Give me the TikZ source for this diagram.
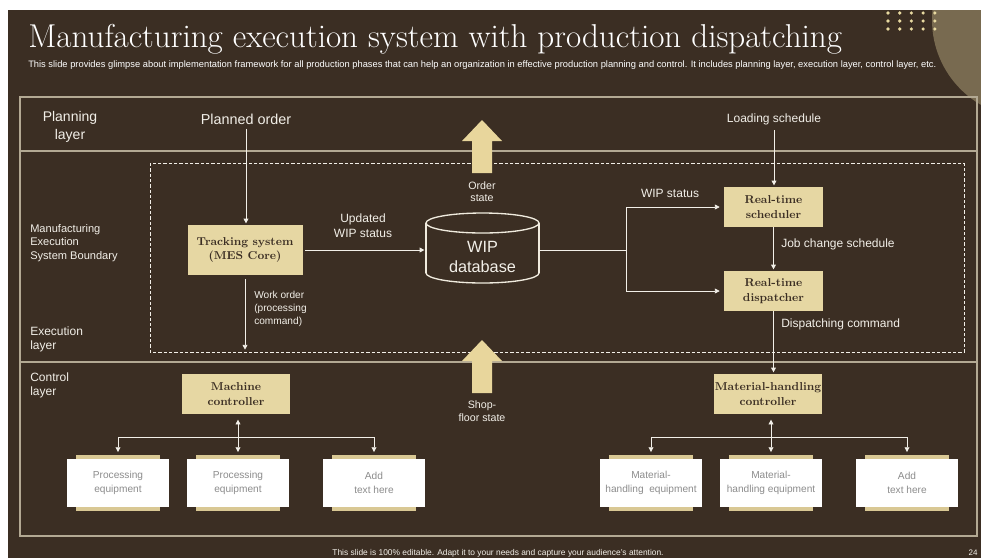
\documentclass[tikz,border=0pt]{standalone}
\usepackage{fontspec}
\setsansfont{Liberation Sans}
\usepackage{tikz}
\usetikzlibrary{arrows.meta,positioning}
\definecolor{slidebg}{HTML}{3B2E23}
\definecolor{decobrown}{HTML}{786A50}
\definecolor{dotgold}{HTML}{E8D9A0}
\definecolor{boxtan}{HTML}{E6D7A3}
\definecolor{blockgold}{HTML}{E8D69C}
\definecolor{stripTan}{HTML}{D9C894}
\definecolor{frameline}{HTML}{B3A993}
\definecolor{txtlight}{HTML}{F2EFE8}
\definecolor{txtgrey}{HTML}{8C8C8C}

\begin{document}
\begin{tikzpicture}[x=0.75pt, y=-0.75pt,
  lbl/.style={text=txtlight, font=\sffamily\fontsize{9}{11}\selectfont, inner sep=0pt, align=center},
  lblleft/.style={lbl, align=left, anchor=west},
  core/.style={fill=boxtan, text=slidebg, font=\bfseries\fontsize{8.6}{11}\selectfont, align=center, inner sep=1pt},
  eqback/.style={fill=stripTan, minimum width=63pt, minimum height=42pt, inner sep=0pt},
  eqbox/.style={fill=white, text=txtgrey, font=\sffamily\fontsize{7.6}{10}\selectfont, align=center,
    minimum width=76.5pt, minimum height=36pt, inner sep=0pt},
  conn/.style={draw=txtlight, line width=0.6pt},
  arr/.style={conn, -{Triangle[length=3.6pt,width=3.6pt]}},
  arrboth/.style={conn, {Triangle[length=3.6pt,width=3.6pt]}-{Triangle[length=3.6pt,width=3.6pt]}}]
  % Slide background
  \useasboundingbox (0,0) rectangle (981,558);
  \fill[white] (0,0) rectangle (981,558);
  \fill[slidebg] (8,10) rectangle (981,558);
  \begin{scope}
    \clip (8,10) rectangle (981,558);
    \fill[decobrown] (1030,20) circle[radius=98];
  \end{scope}
  \foreach \i in {0,...,4}
    \foreach \j in {0,...,2}
      \fill[dotgold] (888+11.7*\i,13+8*\j) circle[radius=1.8];
  % Title
  \node[anchor=base west, inner sep=0pt, text=white, font=\fontsize{24.8}{28}\selectfont] (title) at (28,47)
    {Manufacturing execution system with production dispatching};
  \node[anchor=base west, inner sep=0pt, text=white, font=\sffamily\fontsize{7}{8}\selectfont] (subtitle) at (28,67)
    {This slide provides glimpse about implementation framework for all production phases that can help an organization in effective production planning and control. It includes planning layer, execution layer, control layer, etc.};
  % Layers
  \draw[frameline, line width=1pt] (20,97) rectangle (977,536);
  \draw[frameline, line width=1pt] (20,151) -- (977,151);
  \draw[frameline, line width=1pt] (20,362) -- (977,362);
  \draw[txtlight, line width=0.6pt, dash pattern=on 2.5pt off 1.5pt] (150,163) rectangle (964,352);
  % Block arrows
  \foreach \ty in {120,340}
    \fill[blockgold] (472,\ty+53) -- (472,\ty+21) -- (462,\ty+21) -- (482,\ty)
      -- (502,\ty+21) -- (492,\ty+21) -- (492,\ty+53) -- cycle;
  % Layer labels
  \node[lbl, font=\sffamily\fontsize{10.5}{13.5}\selectfont] (planlayer) at (70,127) {Planning\\layer};
  \node[lblleft, font=\sffamily\fontsize{8.3}{10}\selectfont] (mesbound) at (30,243) {Manufacturing\\Execution\\System Boundary};
  \node[lblleft, font=\sffamily\fontsize{9}{11}\selectfont] (execlayer) at (30,339.5) {Execution\\layer};
  \node[lblleft, font=\sffamily\fontsize{9}{11}\selectfont] (ctrllayer) at (30,385.5) {Control\\layer};
  % Planning inputs
  \node[lbl, font=\sffamily\fontsize{10.8}{13}\selectfont] (plannedorder) at (246,119) {Planned order};
  \node[lbl] (loadsched) at (774,119) {Loading schedule};
  % Execution layer
  \node[core, minimum width=86.25pt, minimum height=37.5pt] (trk) at (245,250) {Tracking system\\(MES Core)};
  \node[minimum width=84.75pt, minimum height=45pt, inner sep=0pt, text=txtlight,
    font=\sffamily\fontsize{12.2}{14.5}\selectfont, align=center] (db) at (482.5,257) {WIP\\database};
  \draw[draw=txtlight!85!boxtan, line width=1pt] (482.5,223) ellipse[x radius=56.5, y radius=10];
  \draw[draw=txtlight!85!boxtan, line width=1pt] (426,223) -- (426,273);
  \draw[draw=txtlight!85!boxtan, line width=1pt] (539,223) -- (539,273);
  \begin{scope}
    \clip (420,273) rectangle (545,290);
    \draw[draw=txtlight!85!boxtan, line width=1pt] (482.5,273) ellipse[x radius=56.5, y radius=10];
  \end{scope}
  \node[core, minimum width=74.25pt, minimum height=30pt] (sched) at (773.5,207) {Real-time\\scheduler};
  \node[core, minimum width=74.25pt, minimum height=30pt] (disp) at (773.5,291) {Real-time\\dispatcher};
  \coordinate (split) at (626,250);
  \coordinate (woend) at (0,351);
  \draw[arr, shorten <=3pt, shorten >=1pt] (plannedorder.south) -- (plannedorder.south |- trk.north);
  \draw[arr, shorten <=3pt, shorten >=1pt] (trk.south) -- (trk.south |- woend);
  \draw[arr, shorten <=2pt, shorten >=1pt] (trk.east) -- (trk.east -| db.west);
  \draw[conn] (db.east |- split) -- (split);
  \draw[arr, shorten >=3pt] (split) |- (sched.west);
  \draw[arr, shorten >=3pt] (split) |- (disp.west);
  \draw[arr, shorten <=4pt, shorten >=1pt] (loadsched.south) -- (loadsched.south |- sched.north);
  \draw[arr, shorten >=1pt] (sched.south) -- (disp.north);
  \node[lbl, font=\sffamily\fontsize{9}{11}\selectfont] (updwip) at (363,226) {Updated\\WIP status};
  \node[lblleft, font=\sffamily\fontsize{7.6}{10}\selectfont] (workorder) at (254,309) {Work order\\(processing\\command)};
  \node[lbl] (wipstatus) at (670,193) {WIP status};
  \node[lblleft] (jobchange) at (781,244) {Job change schedule};
  \node[lblleft] (dispcmd) at (781,324) {Dispatching command};
  \node[lbl, font=\sffamily\fontsize{8}{9}\selectfont] (orderstate) at (482,192) {Order\\state};
  \node[lbl, font=\sffamily\fontsize{8}{9.5}\selectfont] (shopfloor) at (482,411.5) {Shop-\\floor state};
  % Control layer
  \node[core, minimum width=81pt, minimum height=30pt] (mc) at (236,394) {Machine\\controller};
  \node[core, minimum width=81pt, minimum height=30pt] (mh) at (768,394) {Material-handling\\controller};
  \draw[arr, shorten >=1pt] (disp.south) -- (disp.south |- mh.north);
  \coordinate (bus) at (0,437);
  \foreach \x/\n/\t in {118/peq1/{Processing\\equipment}, 238/peq2/{Processing\\equipment}, 374/padd/{Add\\text here},
                        651/meq1/{Material-\\handling~ equipment}, 771/meq2/{Material-\\handling equipment}, 907/madd/{Add\\text here}}{
    \node[eqback] (\n-bk) at (\x,483) {};
    \node[eqbox] (\n) at (\x,483) {\t};
  }
  \draw[conn] (peq1.north |- bus) -- (padd.north |- bus);
  \draw[arr, shorten >=5pt] (peq1.north |- bus) -- (peq1.north);
  \draw[arr, shorten >=5pt] (padd.north |- bus) -- (padd.north);
  \draw[arrboth, shorten <=4pt, shorten >=5pt] (peq2.north |- mc.south) -- (peq2.north);
  \draw[conn] (meq1.north |- bus) -- (madd.north |- bus);
  \draw[arr, shorten >=5pt] (meq1.north |- bus) -- (meq1.north);
  \draw[arr, shorten >=5pt] (madd.north |- bus) -- (madd.north);
  \draw[arrboth, shorten <=4pt, shorten >=5pt] (meq2.north |- mh.south) -- (meq2.north);
  % Footer
  \node[lbl, font=\sffamily\fontsize{6.3}{8}\selectfont] (footer) at (498,553) {This slide is 100\% editable. Adapt it to your needs and capture your audience's attention.};
  \node[lbl, font=\sffamily\fontsize{6}{8}\selectfont] (pagenum) at (973,553) {24};
\end{tikzpicture}
\end{document}
